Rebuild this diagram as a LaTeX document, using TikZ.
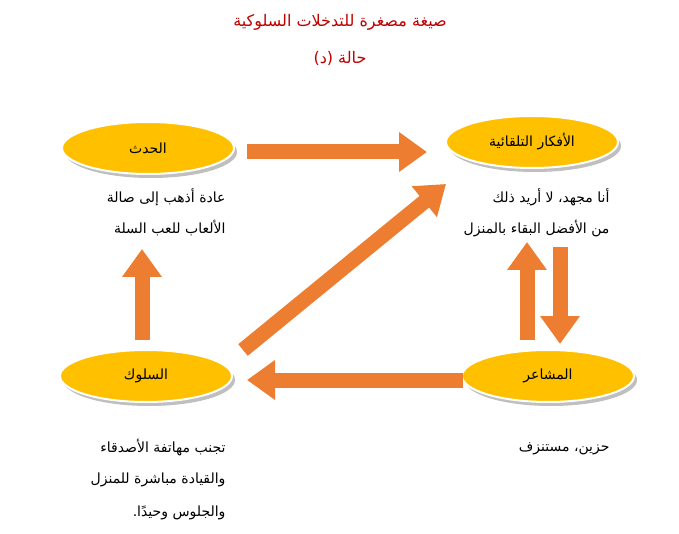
\documentclass[tikz,border=0pt]{standalone}
\usepackage{fontspec}
\usetikzlibrary{positioning,arrows.meta,shapes}
\newfontfamily\arabicfont[Script=Arabic]{DejaVu Sans}
\TeXXeTstate=1
\newcommand{\artxt}[1]{{\arabicfont\beginR #1\endR}}
\definecolor{boxyel}{HTML}{FFC000}
\definecolor{arrorg}{HTML}{ED7D31}
\definecolor{titred}{HTML}{C00000}
\begin{document}
\begin{tikzpicture}[x=1pt,y=-1pt,
  state/.style={ellipse,fill=boxyel,draw=white,line width=2pt,minimum width=172pt,minimum height=52pt,font=\fontsize{14}{16}\selectfont},
  shadow/.style={ellipse,fill=black!25,minimum width=172pt,minimum height=52pt},
  txt/.style={anchor=east,font=\fontsize{14}{16}\selectfont},
  big/.style={draw=arrorg,line width=15pt,-{Triangle[width=38pt,length=28pt]}}]
  \useasboundingbox (0,0) rectangle (679,534);
  \node[font=\fontsize{16}{18}\selectfont,text=titred] (tit1) at (340,22) {\artxt{صيغة مصغرة للتدخلات السلوكية}};
  \node[font=\fontsize{16}{18}\selectfont,text=titred] (tit2) at (340,58) {\artxt{حالة (د)}};

  \node[shadow] at (151,152) {};
  \node[shadow] at (535,146) {};
  \node[shadow] at (149,380) {};
  \node[shadow] at (551,380) {};
  \node[state] (event) at (148,148) {\artxt{الحدث}};
  \node[state] (thought) at (532,142) {\artxt{الأفكار التلقائية}};
  \node[state] (behav) at (146,376) {\artxt{السلوك}};
  \node[state] (feel) at (548,376) {\artxt{المشاعر}};

  \node[txt] (ev1) at (229,197) {\artxt{عادة أذهب إلى صالة}};
  \node[txt] (ev2) at (229,228) {\artxt{الألعاب للعب السلة}};
  \node[txt] (th1) at (613,197) {\artxt{أنا مجهد، لا أريد ذلك}};
  \node[txt] (th2) at (613,229) {\artxt{من الأفضل البقاء بالمنزل}};
  \node[txt] (be1) at (229,448) {\artxt{تجنب مهاتفة الأصدقاء}};
  \node[txt] (be2) at (229,480) {\artxt{والقيادة مباشرة للمنزل}};
  \node[txt] (be3) at (229,513) {\artxt{والجلوس وحيدًا.}};
  \node[txt] (fe1) at (613,449) {\artxt{حزين، مستنزف}};

  \coordinate (a1s) at (247,152); \coordinate (a1e) at (427,152);
  \coordinate (a2s) at (243,350); \coordinate (a2e) at (446,184);
  \coordinate (a3s) at (142,340); \coordinate (a3e) at (142,249);
  \coordinate (a4s) at (527,340); \coordinate (a4e) at (527,242);
  \coordinate (a5s) at (560,247); \coordinate (a5e) at (560,344);
  \coordinate (a6s) at (463,380); \coordinate (a6e) at (247,380);
  \draw[big] (a1s) -- (a1e);
  \draw[big] (a2s) -- (a2e);
  \draw[big] (a3s) -- (a3e);
  \draw[big] (a4s) -- (a4e);
  \draw[big] (a5s) -- (a5e);
  \draw[big] (a6s) -- (a6e);
\end{tikzpicture}
\end{document}
